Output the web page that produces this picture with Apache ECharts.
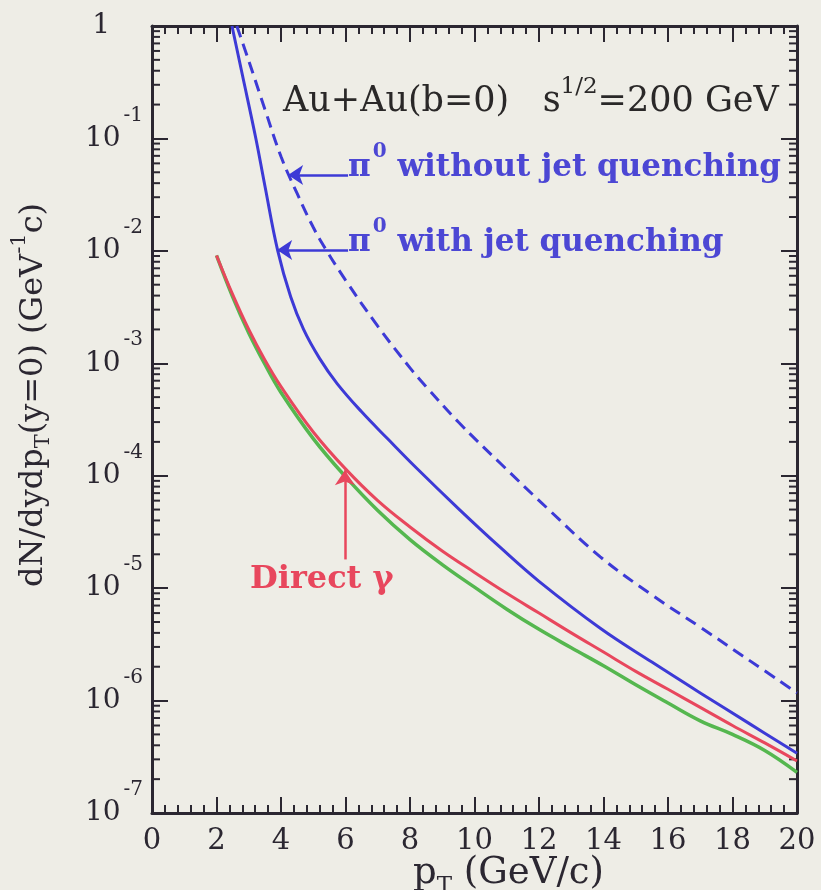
<!DOCTYPE html>
<html>
<head>
<meta charset="utf-8">
<script src="https://cdn.jsdelivr.net/npm/echarts@6/dist/echarts.min.js"></script>
<style>
  html, body { margin: 0; padding: 0; background: #eeede6; }
  #chart { width: 821px; height: 890px; }
</style>
</head>
<body>
<div id="chart"></div>
<script>
// pi0 spectrum with jet quenching: pT (GeV/c) and dN/dy dpT at y=0 (GeV^-1 c)
const pTQuenched = [2.48, 2.8, 3.22, 3.5, 3.9, 4.3, 4.7, 5.2, 5.74, 6.5, 7.3, 8.2, 9.5, 10.8, 12, 13.9, 15.5, 17, 18.5, 20];
const pi0Quenched = [1.0, 0.37, 0.1, 0.038, 0.01, 3.9e-3, 2.0e-3, 1.1e-3, 6.6e-4, 3.7e-4, 2.14e-4, 1.17e-4, 5.1e-5, 2.3e-5, 1.15e-5, 4.4e-6, 2.2e-6, 1.17e-6, 6.3e-7, 3.4e-7];

// pi0 spectrum without jet quenching
const pTUnquenched = [2.63, 3.0, 3.5, 4.0, 4.5, 5.0, 5.4, 6.0, 7.0, 8.0, 8.5, 9.5, 10.8, 12.3, 13.9, 15.5, 17, 18.5, 20];
const pi0Unquenched = [1.0, 0.49, 0.182, 0.069, 0.0324, 0.0162, 0.0102, 5.5e-3, 2.14e-3, 9.1e-4, 6.2e-4, 3.0e-4, 1.29e-4, 5.0e-5, 1.9e-5, 8.7e-6, 4.5e-6, 2.3e-6, 1.17e-6];

// direct photons, upper curve
const pTPhotonUpper = [2, 2.5, 3, 3.5, 4, 5, 6, 7, 8, 9, 10, 11, 12, 13, 14, 15, 16, 17, 18, 19, 20];
const photonUpper = [9.1e-3, 4.1e-3, 2.0e-3, 1.07e-3, 6.2e-4, 2.45e-4, 1.15e-4, 6.0e-5, 3.5e-5, 2.14e-5, 1.38e-5, 9.0e-6, 6.0e-6, 4.0e-6, 2.7e-6, 1.82e-6, 1.26e-6, 8.7e-7, 6.0e-7, 4.2e-7, 2.9e-7];

// direct photons, lower curve
const pTPhotonLower = [2, 2.5, 3, 3.5, 4, 5, 6, 7, 8, 9, 10, 11, 12, 13, 14, 15, 16, 17, 18, 19, 20];
const photonLower = [9.1e-3, 3.9e-3, 1.86e-3, 9.8e-4, 5.5e-4, 2.14e-4, 9.8e-5, 4.9e-5, 2.7e-5, 1.62e-5, 1.02e-5, 6.5e-6, 4.3e-6, 2.95e-6, 2.04e-6, 1.38e-6, 9.5e-7, 6.6e-7, 5.0e-7, 3.6e-7, 2.3e-7];

// axis ticks
const xTickLabels = ['0', '2', '4', '6', '8', '10', '12', '14', '16', '18', '20'];
const yDecades = [1e-7, 1e-6, 1e-5, 1e-4, 1e-3, 1e-2, 1e-1, 1];

const FONT = 'DejaVu Serif';
const INK = '#2b2731';
const BLUE = '#3d3ad6';
const BLUE_TEXT = '#4c47d4';
const RED = '#e8475d';
const GREEN = '#55b74f';

const pairs = (xs, ys) => xs.map((x, i) => [x, ys[i]]);

const chart = echarts.init(document.getElementById('chart'), null, { renderer: 'canvas' });

const axisLineStyle = { color: INK, width: 3 };
const tickStyle = { color: INK, width: 2 };

const option = {
  backgroundColor: '#eeede6',
  animation: false,
  grid: { left: 152, right: 24, top: 26, bottom: 77, containLabel: false },
  xAxis: [
    {
      type: 'value', min: 0, max: 20, interval: 2, position: 'bottom',
      axisLine: { show: true, onZero: false, lineStyle: axisLineStyle },
      axisTick: { show: true, inside: true, length: 16, lineStyle: tickStyle },
      minorTick: { show: true, splitNumber: 5, length: 8, lineStyle: tickStyle },
      splitLine: { show: false },
      axisLabel: {
        margin: 14, fontFamily: FONT, fontSize: 29, color: INK,
        formatter: (v) => xTickLabels[Math.round(v / 2)] ?? ''
      }
    },
    {
      type: 'value', min: 0, max: 20, interval: 2, position: 'top',
      axisLine: { show: true, onZero: false, lineStyle: axisLineStyle },
      axisTick: { show: true, inside: true, length: 16, lineStyle: tickStyle },
      minorTick: { show: true, splitNumber: 5, length: 8, lineStyle: tickStyle },
      splitLine: { show: false },
      axisLabel: { show: false }
    }
  ],
  yAxis: [
    {
      type: 'log', logBase: 10, min: yDecades[0], max: yDecades[yDecades.length - 1], splitNumber: 7,
      position: 'left',
      axisLine: { show: true, onZero: false, lineStyle: axisLineStyle },
      axisTick: { show: true, inside: true, length: 16, lineStyle: tickStyle },
      splitLine: { show: false },
      axisLabel: {
        margin: 9, color: INK,
        formatter: (v) => {
          const e = Math.round(Math.log10(v));
          if (e === 0) return '{one|1}';
          return '{b|10}{e|' + e + '}';
        },
        rich: {
          one: { fontFamily: FONT, fontSize: 28, lineHeight: 28, color: INK, padding: [0, 33, 0, 0] },
          b: { fontFamily: FONT, fontSize: 28, lineHeight: 28, color: INK, verticalAlign: 'bottom' },
          e: { fontFamily: FONT, fontSize: 20, lineHeight: 20, color: INK, verticalAlign: 'bottom', padding: [0, 0, 27, 3] }
        }
      }
    },
    {
      type: 'log', logBase: 10, min: yDecades[0], max: yDecades[yDecades.length - 1], splitNumber: 7,
      position: 'right',
      axisLine: { show: true, onZero: false, lineStyle: axisLineStyle },
      axisTick: { show: true, inside: true, length: 16, lineStyle: tickStyle },
      splitLine: { show: false },
      axisLabel: { show: false }
    }
  ],
  series: [
    {
      name: 'pi0 without jet quenching', type: 'line', smooth: 0.4, showSymbol: false,
      data: pairs(pTUnquenched, pi0Unquenched),
      lineStyle: { color: BLUE, width: 3, type: [12, 7] },
      markLine: {
        silent: true, symbol: ['arrow', 'none'], symbolSize: 15,
        label: { show: false },
        lineStyle: { color: BLUE, width: 2.5, type: 'solid' },
        data: [[{ coord: [4.22, 0.0472] }, { coord: [6.08, 0.0472] }]]
      }
    },
    {
      name: 'pi0 with jet quenching', type: 'line', smooth: 0.4, showSymbol: false,
      data: pairs(pTQuenched, pi0Quenched),
      lineStyle: { color: BLUE, width: 3 },
      markLine: {
        silent: true, symbol: ['arrow', 'none'], symbolSize: 15,
        label: { show: false },
        lineStyle: { color: BLUE, width: 2.5, type: 'solid' },
        data: [[{ coord: [3.88, 0.0102] }, { coord: [6.08, 0.0102] }]]
      }
    },
    {
      name: 'direct photons (lower)', type: 'line', smooth: 0.4, showSymbol: false,
      data: pairs(pTPhotonLower, photonLower),
      lineStyle: { color: GREEN, width: 3.5 }
    },
    {
      name: 'direct photons (upper)', type: 'line', smooth: 0.4, showSymbol: false,
      data: pairs(pTPhotonUpper, photonUpper),
      lineStyle: { color: RED, width: 3 },
      markLine: {
        silent: true, symbol: ['arrow', 'none'], symbolSize: 15,
        label: { show: false },
        lineStyle: { color: RED, width: 2.5, type: 'solid' },
        data: [[{ coord: [5.98, 1.12e-4] }, { coord: [5.98, 1.8e-5] }]]
      }
    }
  ]
};

chart.setOption(option);

// text annotations and log-scale minor ticks on the vertical axes
const graphics = [];

function addText(x, y, text, font, rich, extra) {
  graphics.push(Object.assign({
    type: 'text', x: x, y: y, silent: true,
    style: {
      text: text, fontFamily: FONT, fill: font.color, fontSize: font.size, fontWeight: font.weight || 'normal',
      align: font.align || 'left', verticalAlign: 'middle',
      textAlign: font.align || 'left', textVerticalAlign: 'middle',
      rich: rich
    }
  }, extra || {}));
}

// superscripts are lifted with bottom padding; subscripts sit on the line bottom
addText(283, 102, '{n|Au+Au(b=0)}{n|   s}{u|1/2}{n|=200 GeV}', { color: '#2a2828', size: 35 }, {
  n: { fontFamily: FONT, fontSize: 35, lineHeight: 35, color: '#2a2828', verticalAlign: 'bottom' },
  u: { fontFamily: FONT, fontSize: 23, lineHeight: 23, color: '#2a2828', verticalAlign: 'bottom', padding: [0, 0, 21, 0] }
});

const blueRich = {
  n: { fontFamily: FONT, fontSize: 31, fontWeight: 'bold', lineHeight: 30, color: BLUE_TEXT, verticalAlign: 'bottom' },
  u: { fontFamily: FONT, fontSize: 20, fontWeight: 'bold', lineHeight: 20, color: BLUE_TEXT, verticalAlign: 'bottom', padding: [0, 0, 21, 2] }
};
addText(348, 168, '{n|π}{u|0}{n| without jet quenching}', { color: BLUE_TEXT, size: 31, weight: 'bold' }, blueRich);
addText(348, 243, '{n|π}{u|0}{n| with jet quenching}', { color: BLUE_TEXT, size: 31, weight: 'bold' }, blueRich);

addText(250, 580, 'Direct γ', { color: RED, size: 32, weight: 'bold' }, undefined);

addText(413, 880, '{n|p}{s|T}{n| (GeV/c)}', { color: INK, size: 37 }, {
  n: { fontFamily: FONT, fontSize: 37, lineHeight: 36, color: INK, verticalAlign: 'bottom', padding: [0, 0, 6, 0] },
  s: { fontFamily: FONT, fontSize: 23, lineHeight: 23, color: INK, verticalAlign: 'bottom' }
});

addText(38, 395, '{n|dN/dydp}{s|T}{n|(y=0) (GeV}{u|-1}{n|c)}', { color: INK, size: 32, align: 'center' }, {
  n: { fontFamily: FONT, fontSize: 32, lineHeight: 32, color: INK, verticalAlign: 'bottom', padding: [0, 0, 4, 0] },
  s: { fontFamily: FONT, fontSize: 21, lineHeight: 21, color: INK, verticalAlign: 'bottom' },
  u: { fontFamily: FONT, fontSize: 21, lineHeight: 21, color: INK, verticalAlign: 'bottom', padding: [0, 0, 24, 0] }
}, { rotation: Math.PI / 2 });

const xLeft = chart.convertToPixel({ xAxisIndex: 0 }, 0);
const xRight = chart.convertToPixel({ xAxisIndex: 0 }, 20);
for (let d = 0; d < yDecades.length - 1; d++) {
  for (let k = 2; k <= 9; k++) {
    const py = chart.convertToPixel({ yAxisIndex: 0 }, k * yDecades[d]);
    graphics.push({ type: 'line', silent: true, shape: { x1: xLeft, y1: py, x2: xLeft + 8, y2: py }, style: { stroke: INK, lineWidth: 2 } });
    graphics.push({ type: 'line', silent: true, shape: { x1: xRight, y1: py, x2: xRight - 8, y2: py }, style: { stroke: INK, lineWidth: 2 } });
  }
}

chart.setOption({ graphic: { elements: graphics } });
</script>
</body>
</html>
